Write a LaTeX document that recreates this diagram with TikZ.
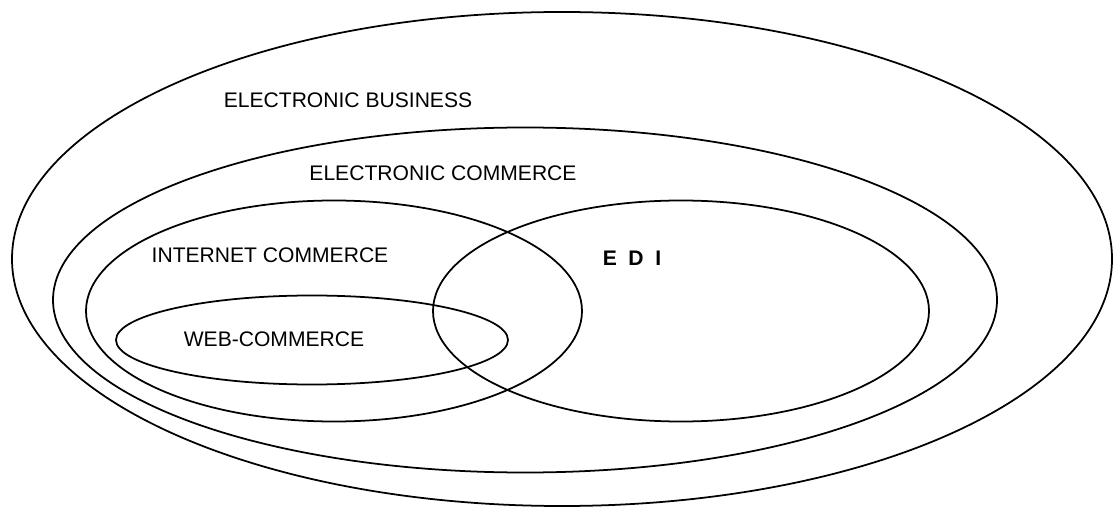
\documentclass[tikz,border=0pt]{standalone}
\usepackage{fontspec}
\setmainfont{Liberation Sans}
\usepackage{tikz}
\usetikzlibrary{positioning,shapes.geometric}

\begin{document}
\begin{tikzpicture}[line width=1pt,
  ring/.style={draw, ellipse, inner sep=0pt},
  tag/.style={font=\fontsize{12}{14}\selectfont, inner sep=0pt}]
  \useasboundingbox (0,0) rectangle (22.26,-10.14);
  % nested areas
  \node[ring, minimum width=22cm, minimum height=9.88cm](eb) at (11.24,-5.18){};
  \node[ring, minimum width=18.88cm, minimum height=6.9cm](ec) at (10.5,-6.0){};
  \node[ring, minimum width=9.92cm, minimum height=4.42cm](ic) at (6.68,-6.22){};
  \node[ring, minimum width=9.92cm, minimum height=4.42cm](edi) at (13.62,-6.22){};
  \node[ring, minimum width=7.84cm, minimum height=1.78cm](wc) at (6.24,-6.8){};
  % labels
  \node[tag](ebl) at (6.96,-2.0){ELECTRONIC BUSINESS};
  \node[tag](ecl) at (8.86,-3.46){ELECTRONIC COMMERCE};
  \node[tag](icl) at (5.4,-5.1){INTERNET COMMERCE};
  \node[tag, font=\fontsize{12}{14}\selectfont\bfseries](edil) at (12.64,-5.16){E\hspace{0.55em}D\hspace{0.55em}I};
  \node[tag](wcl) at (5.48,-6.78){WEB-COMMERCE};
\end{tikzpicture}
\end{document}
